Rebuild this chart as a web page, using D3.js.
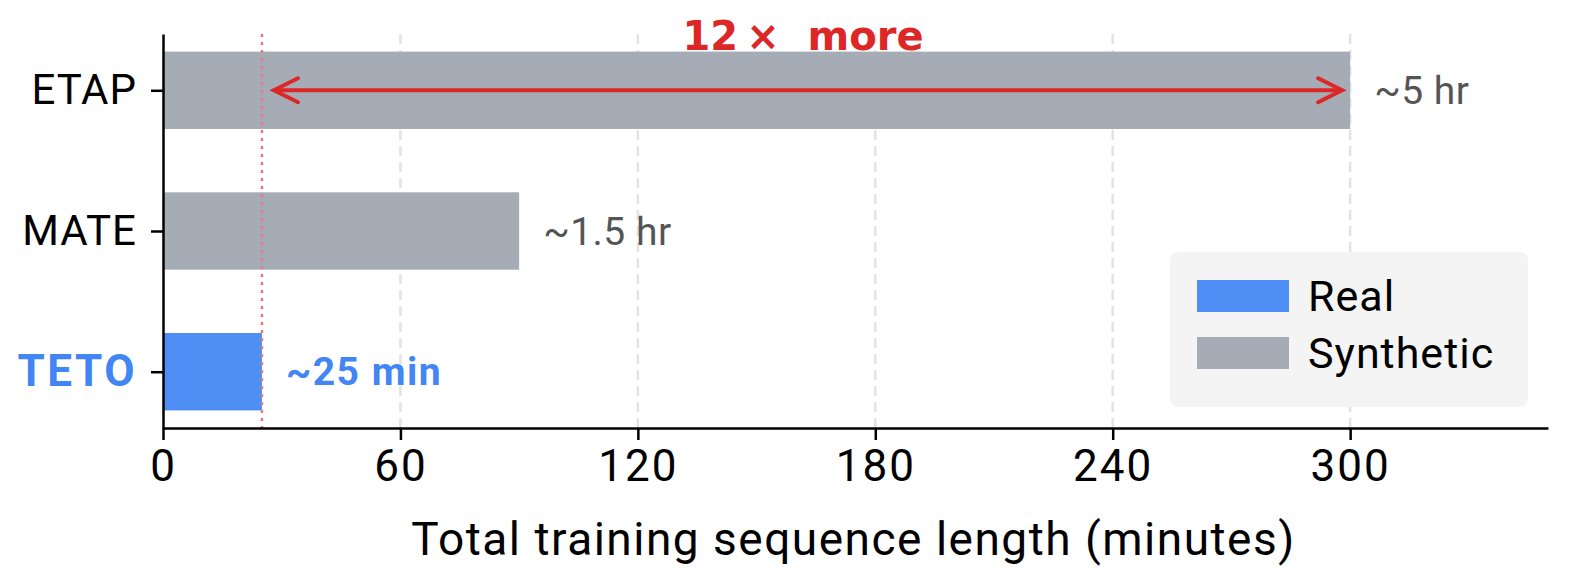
<!DOCTYPE html>
<html>
<head>
<meta charset="utf-8">
<script src="https://cdn.jsdelivr.net/npm/d3@7"></script>
<style>
  body { margin: 0; background: #fff; }
  text { font-family: "Roboto", "Open Sans", sans-serif; }
</style>
</head>
<body>
<svg></svg>
<script>
// data
const methods = ["TETO", "MATE", "ETAP"];
const minutes = [25, 90, 300];
const kinds = ["Real", "Synthetic", "Synthetic"];
const valueLabels = ["~25 min", "~1.5 hr", "~5 hr"];
const xTicks = [0, 60, 120, 180, 240, 300];
const legendKeys = ["Real", "Synthetic"];

const W = 1573, H = 587;
const margin = { left: 163, right: 25, top: 34, bottom: 159 };

const color = { Real: "#4f8ef5", Synthetic: "#a5acb6" };
const red = "#dd2727";

const svg = d3.select("svg").attr("width", W).attr("height", H);

const x = d3.scaleLinear().domain([0, 350]).range([margin.left, W - margin.right]);
// categories sit at 0,1,2 with limits -0.4 .. 2.4
const y = d3.scaleLinear().domain([-0.4, 2.4]).range([H - margin.bottom, margin.top]);
const barH = Math.abs(y(0.55) - y(0));

// dashed grid
svg.append("g")
  .selectAll("line")
  .data(xTicks.slice(1))
  .join("line")
  .attr("x1", d => x(d)).attr("x2", d => x(d))
  .attr("y1", y(2.4)).attr("y2", y(-0.4))
  .attr("stroke", "#e3e3e3")
  .attr("stroke-width", 2.5)
  .attr("stroke-dasharray", "10,6");

// bars
svg.append("g")
  .selectAll("rect")
  .data(methods)
  .join("rect")
  .attr("x", x(0))
  .attr("y", (d, i) => y(i) - barH / 2)
  .attr("width", (d, i) => x(minutes[i]) - x(0))
  .attr("height", barH)
  .attr("fill", (d, i) => color[kinds[i]]);

// dotted red reference line at TETO length
svg.append("line")
  .attr("x1", x(minutes[0])).attr("x2", x(minutes[0]))
  .attr("y1", y(2.4)).attr("y2", y(-0.4))
  .attr("stroke", "#e97a7a")
  .attr("stroke-width", 2.5)
  .attr("stroke-dasharray", "3,5");

// value labels
svg.append("g")
  .selectAll("text")
  .data(valueLabels)
  .join("text")
  .attr("x", (d, i) => x(minutes[i]) + 24)
  .attr("y", (d, i) => y(i))
  .attr("dy", "0.35em")
  .attr("font-size", (d, i) => kinds[i] === "Real" ? 39 : 39)
  .attr("letter-spacing", (d, i) => kinds[i] === "Real" ? 1.5 : 0.5)
  .attr("font-weight", (d, i) => kinds[i] === "Real" ? "bold" : "normal")
  .attr("fill", (d, i) => kinds[i] === "Real" ? "#4285f4" : "#555555")
  .text(d => d);

// double arrow between TETO and ETAP lengths
const ay = y(2);
const ax1 = x(minutes[0]) + 12, ax2 = x(minutes[2]) - 8;
svg.append("line")
  .attr("x1", ax1 + 2).attr("x2", ax2 - 2)
  .attr("y1", ay).attr("y2", ay)
  .attr("stroke", red).attr("stroke-width", 4);
svg.append("path")
  .attr("d", `M${ax1 + 24},${ay - 12}L${ax1},${ay}L${ax1 + 24},${ay + 12}`
           + `M${ax2 - 24},${ay - 12}L${ax2},${ay}L${ax2 - 24},${ay + 12}`)
  .attr("fill", "none")
  .attr("stroke", red).attr("stroke-width", 4)
  .attr("stroke-linecap", "round").attr("stroke-linejoin", "miter");

svg.append("text")
  .attr("x", (x(minutes[0]) + x(minutes[2])) / 2 - 3)
  .attr("y", 50)
  .attr("text-anchor", "middle")
  .attr("font-size", 40)
  .attr("font-weight", "bold")
  .attr("fill", red)
  .attr("xml:space", "preserve")
  .style("font-family", "'DejaVu Sans', sans-serif")
  .text("12\u2009\u00d7  more");

// axes
const xAxis = svg.append("g")
  .attr("transform", `translate(0,${y(-0.4)})`)
  .call(d3.axisBottom(x).tickValues(xTicks).tickSize(12).tickPadding(10).tickSizeOuter(0));
xAxis.select(".domain").attr("stroke", "#000").attr("stroke-width", 2.5);
xAxis.selectAll(".tick line").attr("stroke", "#000").attr("stroke-width", 2.5);
xAxis.selectAll(".tick text").attr("font-size", 44).attr("letter-spacing", 2).attr("fill", "#000")
  .style("font-family", "Roboto, sans-serif");

const yAxis = svg.append("g")
  .attr("transform", `translate(${x(0)},0)`)
  .call(d3.axisLeft(y).tickValues([0, 1, 2]).tickFormat(i => methods[i])
    .tickSize(12).tickPadding(14).tickSizeOuter(0));
yAxis.select(".domain").attr("stroke", "#000").attr("stroke-width", 2.5);
yAxis.selectAll(".tick line").attr("stroke", "#000").attr("stroke-width", 2.5);
yAxis.selectAll(".tick text")
  .style("font-family", "Roboto, sans-serif")
  .attr("font-size", i => kinds[i] === "Real" ? 44 : 42)
  .attr("letter-spacing", i => kinds[i] === "Real" ? 2.5 : 1)
  .attr("font-weight", i => kinds[i] === "Real" ? "bold" : "normal")
  .attr("fill", i => kinds[i] === "Real" ? "#4285f4" : "#000");

svg.append("text")
  .attr("x", (x(0) + x(350)) / 2 - 2)
  .attr("y", 555)
  .attr("text-anchor", "middle")
  .attr("font-size", 46)
  .attr("letter-spacing", 1.5)
  .attr("fill", "#000")
  .text("Total training sequence length (minutes)");

// legend
const lg = svg.append("g").attr("transform", "translate(1170,252)");
lg.append("rect")
  .attr("width", 358).attr("height", 155)
  .attr("rx", 8)
  .attr("fill", "#f4f4f4");
const item = lg.selectAll("g.item")
  .data(legendKeys)
  .join("g")
  .attr("class", "item")
  .attr("transform", (d, i) => `translate(27,${28 + i * 57})`);
item.append("rect")
  .attr("width", 92).attr("height", 32)
  .attr("fill", d => color[d]);
item.append("text")
  .attr("x", 111).attr("y", 16)
  .attr("dy", "0.36em")
  .attr("font-size", 43)
  .attr("letter-spacing", 1)
  .attr("fill", "#000")
  .text(d => d);
</script>
</body>
</html>
